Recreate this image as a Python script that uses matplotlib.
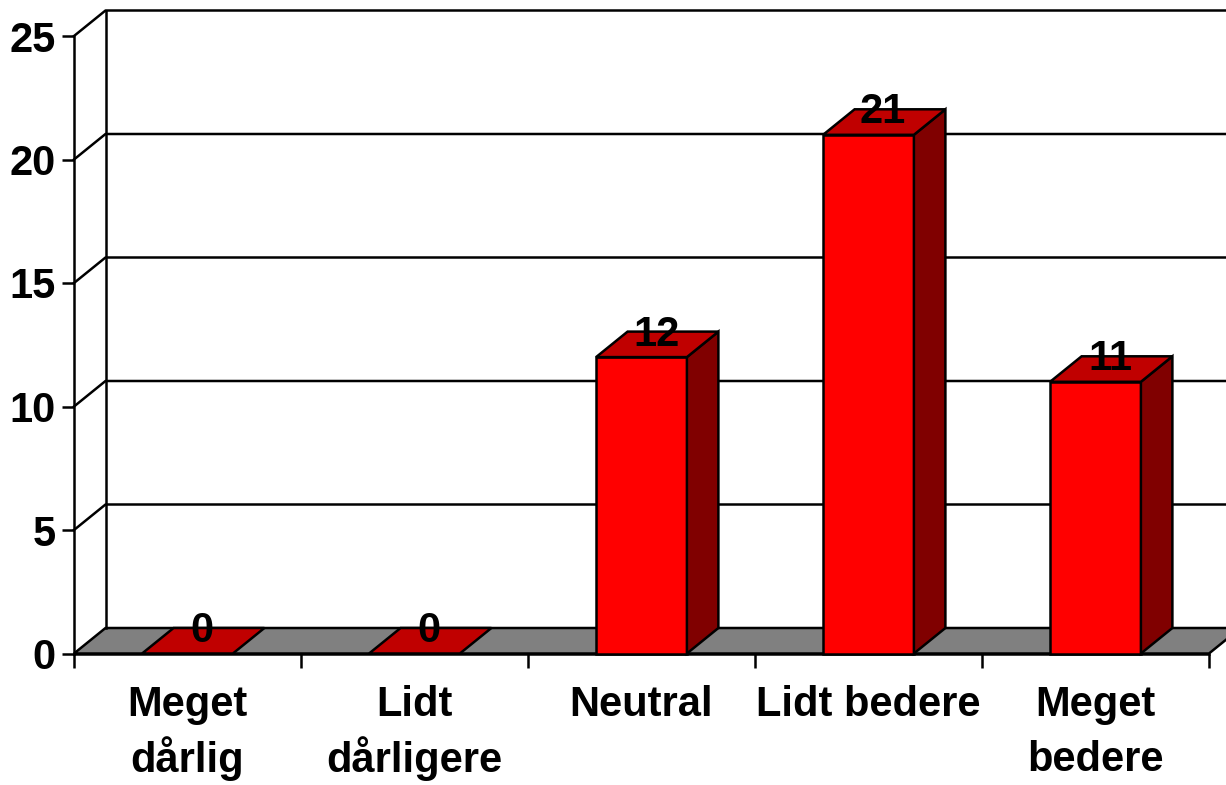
import matplotlib
matplotlib.use('Agg')
import matplotlib.pyplot as plt

plt.rcParams['font.family'] = ['Liberation Sans', 'DejaVu Sans']

# data
categories = ['Meget\ndårlig', 'Lidt\ndårligere', 'Neutral', 'Lidt bedere', 'Meget\nbedere']
values = [0, 0, 12, 21, 11]
y_ticks = [0, 5, 10, 15, 20, 25]

W, H = 1226, 785
fig = plt.figure(figsize=(W / 100, H / 100), dpi=100)
# axes = front plane of the fake 3d box
ax = fig.add_axes([74 / W, (H - 653.5) / H, (1209 - 74) / W, (653.5 - 36) / H])
ax.set_xlim(0, len(categories))
ax.set_ylim(0, 25)

# depth of the box in data units
dx = 31.5 / 227
dy = 25.5 / 24.7
bar_w = 0.4
lw = 1.8

# floor
ax.fill([0, 5, 5 + dx, dx], [0, 0, dy, dy], color='#808080', ec='black', lw=lw, clip_on=False, zorder=1)

# walls and gridlines
ax.plot([dx, dx], [dy, 25 + dy], color='black', lw=lw, clip_on=False, zorder=1)
for t in y_ticks[1:]:
    ax.plot([0, dx, 5 + dx], [t, t + dy, t + dy], color='black', lw=lw, clip_on=False, zorder=1)

# bars
for i, v in enumerate(values):
    x0 = i + 0.5 - bar_w / 2
    x1 = i + 0.5 + bar_w / 2
    if v > 0:
        ax.fill([x0, x1, x1, x0], [0, 0, v, v], fc='#ff0000', ec='black', lw=lw, clip_on=False, zorder=3)
        ax.fill([x1, x1 + dx, x1 + dx, x1], [0, dy, v + dy, v], fc='#800000', ec='black', lw=lw, clip_on=False, zorder=3)
    ax.fill([x0, x1, x1 + dx, x0 + dx], [v, v, v + dy, v + dy], fc='#c00000', ec='black', lw=lw, clip_on=False, zorder=3)
    ax.text(i + 0.5 + dx / 2 - 0.005, v + dy - 0.12, str(v), ha='center', va='center', fontsize=30, fontweight='bold', zorder=4)

# axes
for s in ['top', 'right']:
    ax.spines[s].set_visible(False)
for s in ['left', 'bottom']:
    ax.spines[s].set_linewidth(lw)
    ax.spines[s].set_zorder(2)
ax.patch.set_visible(False)

ax.set_yticks(y_ticks)
ax.set_yticklabels([str(t) for t in y_ticks], fontsize=30, fontweight='bold')
ax.tick_params(axis='y', length=9, width=lw, pad=4)

ax.set_xticks(range(len(categories) + 1))
ax.set_xticklabels([])
ax.tick_params(axis='x', which='major', length=10, width=lw)
ax.set_xticks([i + 0.5 for i in range(len(categories))], minor=True)
ax.set_xticklabels(categories, minor=True, fontsize=30, fontweight='bold')
ax.tick_params(axis='x', which='minor', length=0, pad=23)

# line gap differs with the letters in the 2nd line, so set it per label
for label, gap in zip(ax.get_xticklabels(minor=True), [1.3, 1.3, 1.2, 1.2, 1.46]):
    label.set_linespacing(gap)

fig.savefig('out.png', dpi=100)
